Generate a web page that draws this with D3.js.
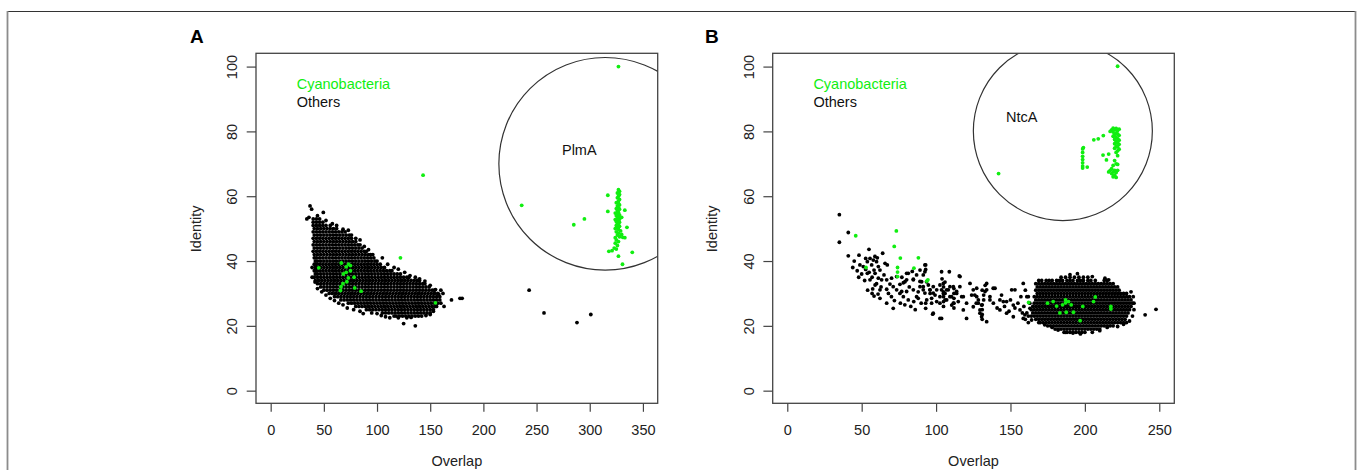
<!DOCTYPE html>
<html>
<head>
<meta charset="utf-8">
<script src="https://cdn.jsdelivr.net/npm/d3@7"></script>
<style>
body{margin:0;background:#fff}
svg{display:block}
text{font-family:"Liberation Sans",Arial,sans-serif}
</style>
</head>
<body>
<svg id="chart" width="1358" height="470"></svg>
<script>
// axis ticks
const xTicksA = [0,50,100,150,200,250,300,350];
const xTicksB = [0,50,100,150,200,250];
const yTicks = [0,20,40,60,80,100];
const legendLabels = ["Cyanobacteria","Others"];

// Panel A (PlmA) : dense "others" cloud, one row per identity value -> overlap values
const othersRowsA = [
 [53,[40,43]],
 [52,[40,43,46,49]],
 [51,[40,43,46,49,52,56]],
 [50,[41,44,47,50,53,56,59,62]],
 [49,[40,43,46,49,52,55,58,61,64,67,70]],
 [48,[41,44,47,50,53,56,59,62,65,68,71,74]],
 [47,[40,43,46,49,52,55,58,61,64,67,70,73,76]],
 [46,[41,44,47,50,53,56,59,62,65,68,71,74,77,80]],
 [45,[40,43,46,49,52,55,58,61,64,67,70,73,76,79,82,84]],
 [44,[41,44,47,50,53,56,59,62,65,68,71,74,77,80,83,86]],
 [43,[40,43,46,49,52,55,58,61,64,67,70,73,76,79,82,85,88,90]],
 [42,[41,44,47,50,53,56,59,62,65,68,71,74,77,80,83,86,89,92,94]],
 [41,[41,43,46,49,52,55,58,61,64,67,70,73,76,79,82,85,88,91,94,97]],
 [40,[42,44,47,50,53,56,59,62,65,68,71,74,77,80,83,86,89,92,95,98,100]],
 [39,[41,43,46,49,52,55,58,61,64,67,70,73,76,79,82,85,88,91,94,97,100,103]],
 [38,[42,44,47,50,53,56,59,62,65,68,71,74,77,80,83,86,89,92,95,98,101,104,107]],
 [37,[41,43,46,49,52,55,58,61,64,67,70,73,76,79,82,85,88,91,94,97,100,103,106,109,112,114]],
 [36,[42,44,47,50,53,56,59,62,65,68,71,74,77,80,83,86,89,92,95,98,101,104,107,110,113,116,119,122]],
 [35,[41,44,47,50,53,56,59,62,65,68,71,74,77,80,83,86,89,92,95,98,101,104,107,110,113,116,119,122,125,128,130]],
 [34,[42,45,48,51,54,57,60,63,66,69,72,75,78,81,84,87,90,93,96,99,102,105,108,111,114,117,120,123,126,129,132,135,138,140]],
 [33,[44,47,50,53,56,59,62,65,68,71,74,77,80,83,86,89,92,95,98,101,104,107,110,113,116,119,122,125,128,131,134,137,140,143,145]],
 [32,[47,50,53,56,59,62,65,68,71,74,77,80,83,86,89,92,95,98,101,104,107,110,113,116,119,122,125,128,131,134,137,140,143,146,149]],
 [31,[50,53,56,59,62,65,68,71,74,77,80,83,86,89,92,95,98,101,104,107,110,113,116,119,122,125,128,131,134,137,140,143,146,149,152,154]],
 [30,[55,58,61,64,67,70,73,76,79,82,85,88,91,94,97,100,103,106,109,112,115,118,121,124,127,130,133,136,139,142,145,148,151,154,157]],
 [29,[60,63,66,69,72,75,78,81,84,87,90,93,96,99,102,105,108,111,114,117,120,123,126,129,132,135,138,141,144,147,150,153,156,159]],
 [28,[66,69,72,75,78,81,84,87,90,93,96,99,102,105,108,111,114,117,120,123,126,129,132,135,138,141,144,147,150,153,156,159]],
 [27,[73,76,79,82,85,88,91,94,97,100,103,106,109,112,115,118,121,124,127,130,133,136,139,142,145,148,151,154,157]],
 [26,[80,83,86,89,92,95,98,101,104,107,110,113,116,119,122,125,128,131,134,137,140,143,146,149,152,155]],
 [25,[90,93,96,99,102,105,108,111,114,117,120,123,126,129,132,135,138,141,144,147,150,153]],
 [24,[105,108,111,114,117,120,123,126,129,132,135,138,141,144,147,150]],
 [23,[118,121,124,127,130,133,136,139]]
];
const othersEdgeA = [
 [37,57],[38.5,56],[49.5,55],[34,53],[36,53.5],[44,54],[46,53],[52,52.5],[58,51.5],[62,51],[68,49.8],[73,49.5],
 [76,48],[80,47],[84,46.5],[88,44.5],[92,43.5],[96,42],[105,41],[110,39],[116,38],[120,37.5],[126,36.5],[131,35.5],
 [136,35],[140,34.5],[145,33.8],[150,32.5],[155,31.2],[160,31],[158,29.8],[162,30],[156,26],[160,27],[163,26],
 [170,28],[178,28.5],[180,28.5],[39,38],[39,35],[41.7,33.5],[44,31.5],[48,30.5],[52,29.5],[56,28.5],[60,27.8],
 [64,27],[68,26.5],[72,25.5],[78,25],[84,24.5],[87,23.8],[95,24],[100,23.8],[104,23.2],[108,22.8],[112,22.5],
 [116,23],[120,22.5],[125,20.7],[128,22.5],[132,22.6],[136,20],[142,23],[146,23.2],[150,23.5],[153,24.5],
 [243,31],[257,24],[288,21],[301,23.5]
];
const cyanoA = [
 [327,62],[328,61.5],[326,61],[328,60.5],[327,60],[326,59.5],[328,59],[327,58.5],[325,58],[327,57.8],[328,57.3],
 [326,57],[327,56.5],[325,56.2],[328,56],[326,55.5],[327,55],[324,54.8],[326,54.5],[328,54.2],[325,54],[327,53.5],
 [326,53.2],[328,53],[324,52.8],[327,52.5],[325,52.2],[328,52],[326,51.7],[327,51.3],[325,51],[328,50.7],[326,50.3],
 [324,50],[327,49.8],[329,49.3],[325,49],[327,48.6],[330,48.2],[326,48],[328,47.5],[324,47.2],[331,47.3],[333,47.2],
 [325,46.5],[327,46],[324,45.5],[326,44.8],[323,44],[325,43.7],[321,43.2],[318,43],[327,41.5],[330.8,39],[340,42.7],
 [335,50.4],[333,55.7],[330,53.5],[317,60.3],[317,55.3],[285,51.2],[295,53],[236,57.2],[327,100],
 [143.3,66.5],[122,41],[66.4,39.4],[73.3,39],[71,38.2],[75,38.6],[68.3,36],[71,36.5],[75,37],[78.4,35],[71.6,33.6],
 [73,34.8],[66.1,32.1],[68,33],[79,31.7],[85,30.7],[65.6,30.9],[45.2,37.9],[154.9,27.1]
];

// Panel B (NtcA)
const othersRowsB = [
 [35,[184,187,190,193,196,199,202]],
 [34,[169,171,174,176,178,181,183,185,188,190,192,195,197,199,202,204,207,213,215]],
 [33,[167,169,171,173,175,177,179,181,183,185,187,189,191,193,195,197,199,201,203,205,207,209,211,213,215,217,219]],
 [32,[168,170,172,174,176,178,180,182,184,186,188,190,192,194,196,198,200,202,204,206,208,210,212,214,216,218,220,222]],
 [31,[167,169,171,173,175,177,179,181,183,185,187,189,191,193,195,197,199,201,203,205,207,209,211,213,215,217,219,221,223]],
 [30,[168,170,172,174,176,178,180,182,184,186,188,190,192,194,196,198,200,202,204,206,208,210,212,214,216,218,220,222,224,226,228]],
 [29,[166,168,170,172,174,176,178,180,182,184,186,188,190,192,194,196,198,200,202,204,206,208,210,212,214,216,218,220,222,224,226,228,230]],
 [28,[167,169,171,173,175,177,179,181,183,185,187,189,191,193,195,197,199,201,203,205,207,209,211,213,215,217,219,221,223,225,227,229,231]],
 [27,[166,168,170,172,174,176,178,180,182,184,186,188,190,192,194,196,198,200,202,204,206,208,210,212,214,216,218,220,222,224,226,228,230,232]],
 [26,[165,167,169,171,173,175,177,179,181,183,185,187,189,191,193,195,197,199,201,203,205,207,209,211,213,215,217,219,221,223,225,227,229,231]],
 [25,[166,168,170,172,174,176,178,180,182,184,186,188,190,192,194,196,198,200,202,204,206,208,210,212,214,216,218,220,222,224,226,228,230]],
 [24,[165,167,169,171,173,175,177,179,181,183,185,187,189,191,193,195,197,199,201,203,205,207,209,211,213,215,217,219,221,223,225,227,229]],
 [23,[166,168,170,172,174,176,178,180,182,184,186,188,190,192,194,196,198,200,202,204,206,208,210,212,214,216,218,220,222,224,226,228]],
 [22,[167,169,171,173,175,177,179,181,183,185,187,189,191,193,195,197,199,201,203,205,207,209,211,213,215,217,219,221,223,225,227]],
 [21,[170,172,174,176,178,180,182,184,186,188,190,192,194,196,198,200,202,204,206,208,210,212,214,216,218,220,222,224,226]],
 [20,[175,177,179,181,183,185,187,189,191,193,195,197,199,201,203,205,207,209,211,213,215,217,219]],
 [19,[180,182,184,186,188,190,192,194,196,198,200,202,204,206,208,210]],
 [18,[186,188,190,192,194,196,198,200]]
];
const othersEdgeB = [
 [195,36.1],[190,35.8],[205,35.2],[213.5,34.7],[216,34.2],[232.5,29],[233,27],[233,25],[232,23],[230,21.5],
 [226,20.5],[222,19.8],[215,19.5],[210,18.5],[205,18],[197,17.5],[192,17.8],[187,18],[182,18.7],[178,19.5],
 [173,20.3],[169,21],[240.5,23.4],[247.8,25.1],[228,21],[231,30.5],[162,23],[160,22],[158,24],[163,27],[161,29],[164,25],
 [35,54.3],[41,48.8],[35,45.8],[41,41.6],[45,40],[48.2,41.8],[48.8,38.8],[51.1,38.3],[52.7,37.4],[53.8,36.2],
 [54.9,43.6],[55.6,40.8],[57.8,40.3],[58.9,41.4],[60.5,41],[56.7,38.8],[60,39.8],[61.2,38.3],[58.3,37.2],[55.6,34.2],
 [57.4,31.4],[58.3,29.2],[64.1,42.4],[65.7,39.3],[67.2,38.8],[62.3,37.2],[65,35.7],[66.8,34.2],[70.1,34.7],[73.5,35.2],
 [69,32.9],[71.2,32.1],[73.5,31.1],[66.8,31.3],[62.3,28.5],[66.8,27],[71.2,25.4],[75.7,32.8],[78,33.3],[80.2,34.2],
 [80.2,30.6],[81.3,28],[84.7,34.4],[86.9,35.7],[89.2,37.2],[90.3,33.6],[91.4,31.1],[93,38.8],[93,37.4],[93.6,33.6],
 [94.8,32.6],[95.9,31.1],[93,27],[93,25.4],[97.7,23.6],[102.6,22.3],[103.7,36.7],[108.9,36.7],[115.6,35.4],
 [52.7,40.8],[53.8,39.8],[59,36.2],[61.2,34.7],[63.4,34.2],[59,32.6],[62.3,31.1],[75.7,30],[78,29],[81.3,36.2],
 [84.7,31.1],[86.9,29],[89.2,32.1],[98.1,32.1],[98.1,30.1],[100.4,31.1],[102.6,29],[102.6,27],[103.7,31.1],
 [104.9,33.1],[106,30],[107.1,28],[108.2,31.1],[109.3,32.1],[110.4,29],[111.6,27],[113.8,30],[116,32.1],[118.3,29],
 [120.5,27],[122.8,33.1],[125,31.1],[127.3,29],[128.4,27],[129.5,24.9],[130.6,22.8],[134,31.1],[136.2,28],
 [138.4,31.6],[142.9,28],[147.4,27.5],[150.8,31.1],[151.9,22.8],
 [80.2,36.2],[79.1,33.6],[76.9,30.6],[84.7,34.2],[92.5,38.8],[92.5,36.7],[91.4,35.7],[89.2,33.7],[91.4,32.1],
 [92.5,30.1],[93.7,28],[95.9,31.1],[98.1,23.9],[99.3,29.5],[100.4,27.5],[102.6,32.6],[103.7,22.3],[104.9,30],
 [106,28],[107.1,31.1],[109.3,29],[110.5,26.4],[111.6,32.1],[113.8,30.6],[116.1,35.2],[114.9,27.5],[117.2,29],
 [118.3,24.9],[120.5,22.3],[123.9,29.5],[125,25.9],[127.3,31.6],[128.4,28],[129.5,23.9],[130.6,26.4],[132.9,30.6],
 [134,33.1],[134,21.3],[136.2,29],[138.5,27],[139.6,31.6],[142.9,24.9],[145.2,27.5],[147.4,23.9],[151.9,26.4],
 [153,31.1],[156.4,24.9],[158.6,33.1],[159.7,23.4],[162,29],[163.1,25.4],[158.6,22.3],[164.2,21.8],
 [105,26],[105,27.5],[105,29],[105,30.5],[105,32],[106,33.5],[104,34.5],[112,25.5],[112,27],[112,28.5],[112,30],
 [112,31.5],[131,22],[131,23.5],[131,25],[131,26.5],[132,28],[132,29.5],[131,31],[133,32.5],[127,27],[126,29.5],
 [97,27],[97,28.5],[96,30],[44,38],[47,37],[50,36],[48,35],[52,34],[55,36.5],[57,35],[60,33],[63,32],[54,31],
 [57,30],[61,29.8],[68,30],[70,29],[72,27.8],[76,27],[79,26.5],[83,26],[85,27.5],[88,28.5],[90,27],[86,25],
 [82,32],[88,30.5],[84,36.8],[77,35],[141,25.5],[144,29.5],[146,26],[149,24.5],[150,28],[153,25.5],[155,27],
 [157,29],[159,26],[161,24],[162,21],[164,23],[160,31]
];
const cyanoB = [
 [218,80.5],[219,81],[220,80.6],[221,80.9],[222,80.3],[223,80.7],[217,80],[219,79.8],[221,79.5],[222,79.2],[220,79],
 [223,78.8],[219,78.5],[221,78.2],[222,77.8],[220,77.5],[223,77.3],[221,76.8],[222,76.5],[220,76.2],[223,76],[221,75.5],
 [222,75.2],[220,74.8],[223,74.5],[222,74],[221,73.5],[222,72.5],[220,71],[221,70],[219,69.5],[222,69.8],[218,68.5],
 [220,68],[219,67.5],[221,67.3],[218,67],[220,66.5],[219,66],[221,65.8],[217,68],[216,67.5],[222,68],[214.5,71.2],
 [212.2,72.7],[216,73],[212.4,78.7],[209,77.7],[206,77.4],[198.5,74.6],[199,75],[198.5,73.5],[198.5,72.3],[198.5,71.3],
 [198.5,70.3],[198.5,69.3],[198.5,68.7],[201.6,69],[142,67],[222,100.1],
 [46,47.8],[73.3,49.3],[71.9,44.5],[76,40.9],[88.1,41],[85.1,37.8],[74.1,38],[74.1,36.6],[74.1,35.2],[93.7,33.8],
 [94.5,34.2],[52.9,38],[162.2,27.2],[174.9,27],[178.7,27.5],[181,26.1],[183.2,24],[187,27.1],[189,27.5],[187.5,24.2],
 [190.8,26.5],[192.3,24.2],[198.6,26],[196.8,21.6],[205.8,27.5],[207,28.9],[217.5,26],[217.5,25.2],[187,28],[185,26.5]
];

const rowsToPoints = rows => rows.flatMap(([y, xs]) => xs.map(x => [x, y]));

const panels = [
 {id:"A", name:"PlmA", left:256, right:657.7, xdom:[-13.8,363.9], xticks:xTicksA,
  others:rowsToPoints(othersRowsA).concat(othersEdgeA), cyano:cyanoA,
  ring:[314.5,70.0], ringR:106.3, ringLabel:[579.3,154.5], letterX:190, titleX:200.5},
 {id:"B", name:"NtcA", left:772.7, right:1174.3, xdom:[-9.8,260.1], xticks:xTicksB,
  others:rowsToPoints(othersRowsB).concat(othersEdgeB), cyano:cyanoB,
  ring:[185.2,80.1], ringR:89.5, ringLabel:[1021.7,121.7], letterX:705, titleX:717}
];

const plotTop = 53.3, plotBottom = 403.3;
const dotR = 1.9;
const Y = d3.scaleLinear().domain([-3.9,104.1]).range([plotBottom, plotTop]);
const svg = d3.select("#chart");

// outer figure frame
svg.append("line").attr("x1",7.5).attr("x2",1355.5).attr("y1",11.5).attr("y2",11.5)
  .attr("stroke","#333").attr("stroke-width",1);
[7.5,1355.5].forEach(fx => svg.append("line").attr("x1",fx).attr("x2",fx).attr("y1",11).attr("y2",470)
  .attr("stroke","#8c8c8c").attr("stroke-width",1.8));

panels.forEach(p => {
  const X = d3.scaleLinear().domain(p.xdom).range([p.left, p.right]);
  const g = svg.append("g");

  g.append("clipPath").attr("id","clip"+p.id).append("rect")
    .attr("x",p.left).attr("y",plotTop).attr("width",p.right-p.left).attr("height",plotBottom-plotTop);
  const plot = g.append("g").attr("clip-path",`url(#clip${p.id})`);

  plot.append("g").selectAll("circle").data(p.others).join("circle")
    .attr("cx",d=>X(d[0])).attr("cy",d=>Y(d[1])).attr("r",dotR).attr("fill","#000");
  plot.append("g").selectAll("circle").data(p.cyano).join("circle")
    .attr("cx",d=>X(d[0])).attr("cy",d=>Y(d[1])).attr("r",dotR).attr("fill","#11ee11");

  plot.append("circle").attr("cx",X(p.ring[0])).attr("cy",Y(p.ring[1])).attr("r",p.ringR)
    .attr("fill","none").attr("stroke","#333").attr("stroke-width",1.2);

  g.append("rect").attr("x",p.left).attr("y",plotTop).attr("width",p.right-p.left).attr("height",plotBottom-plotTop)
    .attr("fill","none").attr("stroke","#444").attr("stroke-width",1.3);

  const xa = g.append("g").attr("transform",`translate(0,${plotBottom})`)
    .call(d3.axisBottom(X).tickValues(p.xticks).tickSize(8.5).tickPadding(13).tickFormat(d3.format("d")));
  const ya = g.append("g").attr("transform",`translate(${p.left},0)`)
    .call(d3.axisLeft(Y).tickValues(yTicks).tickSize(9.3).tickFormat(d3.format("d")));
  [xa, ya].forEach(a => {
    a.select(".domain").remove();
    a.selectAll("line").attr("stroke","#444").attr("stroke-width",1.2);
    a.selectAll("text").attr("fill","#222").style("font-size","14.5px")
      .style("font-family",'"Liberation Sans",Arial,sans-serif');
  });
  ya.selectAll("text").attr("x",0).attr("y",-19).attr("dy",null)
    .attr("text-anchor","middle").attr("transform","rotate(-90)");

  // axis titles
  g.append("text").attr("x",(p.left+p.right)/2).attr("y",466).attr("text-anchor","middle")
    .style("font-size","14.5px").attr("fill","#222").text("Overlap");
  g.append("text").attr("transform",`translate(${p.titleX},${(plotTop+plotBottom)/2+0.5}) rotate(-90)`)
    .attr("text-anchor","middle").style("font-size","14.5px").attr("fill","#222").text("Identity");

  // legend
  legendLabels.forEach((lab,i) => g.append("text").attr("x",p.left+40.7).attr("y",89.3+i*17.4)
    .style("font-size","14.5px").attr("fill", i===0 ? "#11ee11" : "#111").text(lab));

  g.append("text").attr("x",p.ringLabel[0]).attr("y",p.ringLabel[1]).attr("text-anchor","middle")
    .style("font-size","14.5px").attr("fill","#111").text(p.name);

  g.append("text").attr("x",p.letterX).attr("y",43.3).style("font-size","19px").style("font-weight","bold")
    .attr("fill","#000").text(p.id);
});
</script>
</body>
</html>
